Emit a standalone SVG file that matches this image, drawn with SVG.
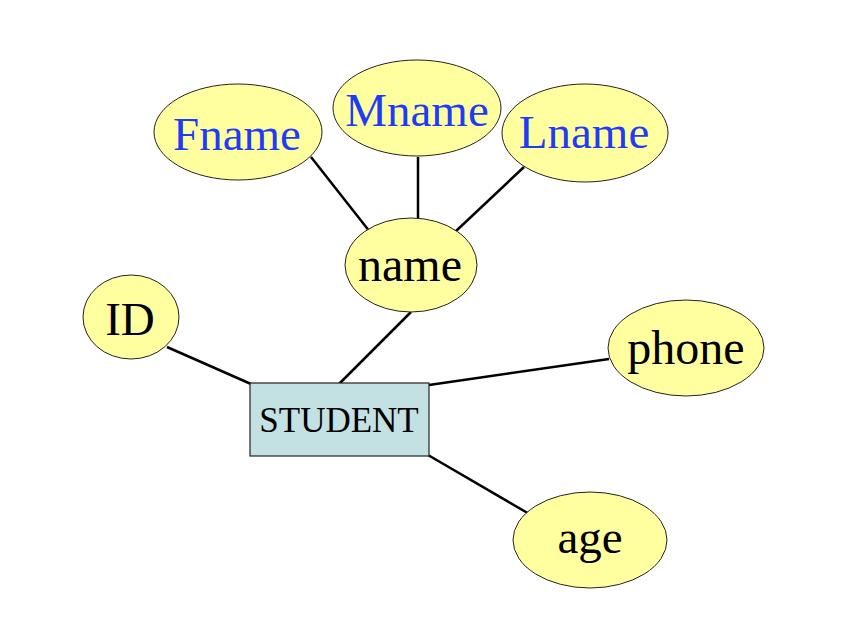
<svg xmlns="http://www.w3.org/2000/svg" width="848" height="618" viewBox="0 0 848 618">
<style>
.attr{fill:#ffffa0;stroke:#222;stroke-width:1}
.ent{fill:#c3e0e3;stroke:#222;stroke-width:1.2}
.t{font-family:"Liberation Serif","Times New Roman",serif;text-anchor:middle;fill:#000}
.b{fill:#1f3cf5}
.c line{stroke:#000;stroke-width:2.5}
</style>
<rect width="848" height="618" fill="#fff"/>
<g class="c" id="connectors">
<line x1="311" y1="157" x2="370" y2="232"/>
<line x1="418" y1="157" x2="418" y2="218"/>
<line x1="524" y1="167" x2="455" y2="232"/>
<line x1="167" y1="347" x2="251" y2="384"/>
<line x1="411" y1="312" x2="339" y2="384"/>
<line x1="429" y1="385" x2="609" y2="359"/>
<line x1="428" y1="455" x2="531" y2="515"/>
</g>
<g id="Fname"><ellipse class="attr" cx="238" cy="132" rx="84" ry="48"/><text class="t b" x="237" y="150" font-size="47">Fname</text></g>
<g id="Mname"><ellipse class="attr" cx="417" cy="108" rx="84" ry="48"/><text class="t b" x="417" y="126" font-size="47">Mname</text></g>
<g id="Lname"><ellipse class="attr" cx="585" cy="133" rx="83" ry="49"/><text class="t b" x="584" y="148" font-size="47">Lname</text></g>
<g id="name"><ellipse class="attr" cx="411" cy="265" rx="66" ry="47"/><text class="t" x="410" y="281" font-size="48">name</text></g>
<g id="ID"><ellipse class="attr" cx="131" cy="317" rx="48" ry="42"/><text class="t" x="130" y="335" font-size="47">ID</text></g>
<g id="STUDENT"><rect class="ent" x="250" y="383" width="179" height="73"/><text class="t" x="339" y="432" font-size="35">STUDENT</text></g>
<g id="phone"><ellipse class="attr" cx="686" cy="348" rx="78" ry="48"/><text class="t" x="686" y="364" font-size="48">phone</text></g>
<g id="age"><ellipse class="attr" cx="590" cy="540" rx="77" ry="48"/><text class="t" x="590" y="553" font-size="47">age</text></g>
</svg>
